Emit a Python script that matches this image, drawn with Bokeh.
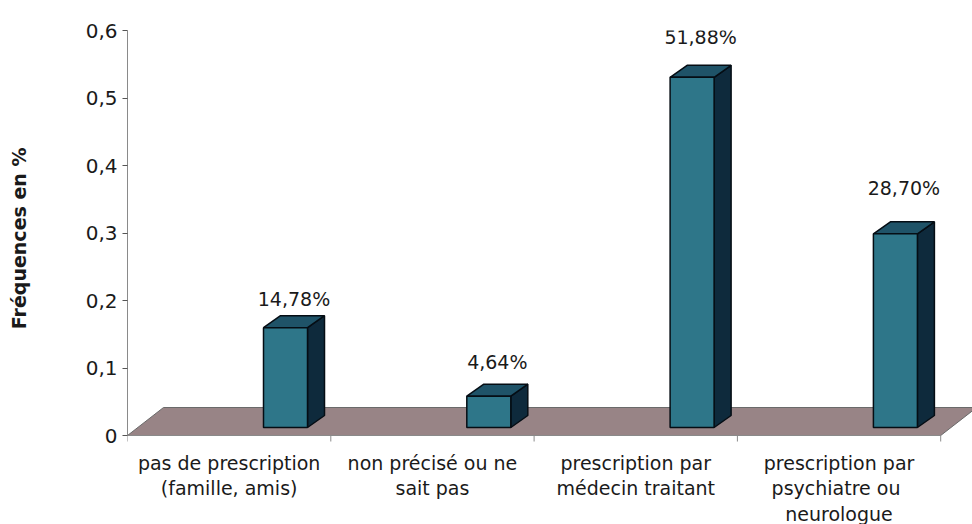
from bokeh.plotting import figure
from bokeh.models import Range1d, FixedTicker, LinearAxis, ColumnDataSource, Title
from bokeh.embed import file_html
from bokeh.resources import INLINE
from bokeh.core.properties import value

# ---- data ----
categories = [
    "pas de prescription\n(famille, amis)",
    "non précisé ou ne\nsait pas",
    "prescription par\nmédecin traitant",
    "prescription par\npsychiatre  ou\nneurologue",
]
values = [0.1478, 0.0464, 0.5188, 0.2870]
value_labels = ["14,78%", "4,64%", "51,88%", "28,70%"]
y_ticks = [0, 0.1, 0.2, 0.3, 0.4, 0.5, 0.6]
y_tick_labels = ["0", "0,1", "0,2", "0,3", "0,4", "0,5", "0,6"]
y_title = "Fréquences en %"

# ---- layout ----
W, H = 972, 524
BL, BR, BT, BB = 127, 0, 30, 0
FW = W - BL - BR
FH = H - BT - BB
n = len(categories)
PX_X = 203.3                  # pixels per category
PX_Y = 675.0                  # pixels per unit of value
y_max = 0.6
x_end = FW / PX_X
y_start = y_max - FH / PX_Y


def dxu(px):
    return px / PX_X


def dyu(px):
    return px / PX_Y


FONT = "DejaVu Sans"
TXT = "#1a1a1a"
AXC = "#8a8a8a"

p = figure(width=W, height=H, x_range=Range1d(0, x_end), y_range=Range1d(y_start, y_max),
           output_backend="svg", toolbar_location=None,
           min_border_left=BL, min_border_right=BR, min_border_top=BT, min_border_bottom=BB,
           x_axis_location=None, y_axis_location=None)
p.outline_line_color = None
p.xgrid.visible = False
p.ygrid.visible = False
p.background_fill_color = "white"
p.border_fill_color = "white"

# ---- floor ----
fdx, fdy = dxu(36), dyu(28)
p.patch([0, n, n + fdx, fdx], [0, 0, fdy, fdy],
        fill_color="#988486", line_color="#6a6a6a", line_width=1)

# ---- category axis (baseline, ticks, labels) ----
p.segment(x0=[0], y0=[0], x1=[n], y1=[0], line_color=AXC, line_width=1)
p.segment(x0=list(range(n + 1)), y0=[0] * (n + 1), x1=list(range(n + 1)),
          y1=[-dyu(6)] * (n + 1), line_color=AXC, line_width=1)
cat_src = ColumnDataSource(dict(x=[i + 0.5 for i in range(n)],
                                y=[-dyu(16)] * n, text=categories))
p.text(x="x", y="y", text="text", source=cat_src, text_align="center",
       text_baseline="top", text_font=value(FONT), text_font_size="19px",
       text_color=TXT, text_line_height=1.17)

# ---- 3D bars ----
bw = dxu(44)
ddx, ddy = dxu(17), dyu(12)
base = dyu(8)
x0 = [i + 0.669 for i in range(n)]
tops = [base + v for v in values]

front_xs, front_ys, top_xs, top_ys, side_xs, side_ys = [], [], [], [], [], []
for xl, t in zip(x0, tops):
    xr = xl + bw
    front_xs.append([xl, xr, xr, xl])
    front_ys.append([base, base, t, t])
    top_xs.append([xl, xr, xr + ddx, xl + ddx])
    top_ys.append([t, t, t + ddy, t + ddy])
    side_xs.append([xr, xr + ddx, xr + ddx, xr])
    side_ys.append([base, base + ddy, t + ddy, t])

p.patches(side_xs, side_ys, fill_color="#0e2a3c", line_color="#050d14", line_width=1.5)
p.patches(top_xs, top_ys, fill_color="#1f5368", line_color="#050d14", line_width=1.5)
p.patches(front_xs, front_ys, fill_color="#2e7689", line_color="#050d14", line_width=1.5)

# ---- value labels ----
lab_src = ColumnDataSource(dict(
    x=[xl + (bw + ddx) / 2 for xl in x0],
    y=[t + ddy + dyu(17 + 5.6 * i) for i, t in enumerate(tops)],
    text=value_labels,
))
p.text(x="x", y="y", text="text", source=lab_src, text_align="center",
       text_baseline="middle", text_font=value(FONT), text_font_size="19px",
       text_color=TXT)

# ---- value axis ----
yaxis = LinearAxis(
    ticker=FixedTicker(ticks=y_ticks, minor_ticks=[]),
    major_label_overrides={t: l for t, l in zip(y_ticks, y_tick_labels)},
    bounds=(0, y_max),
    axis_line_color=AXC, axis_line_width=1,
    major_tick_out=5, major_tick_in=0, major_tick_line_color="#555555",
    minor_tick_out=0, minor_tick_in=0,
    major_label_standoff=5,
    major_label_text_font=FONT, major_label_text_font_size="20px",
    major_label_text_color=TXT,
)
p.add_layout(yaxis, "left")

# blank spacer between the tick labels and the axis title
p.add_layout(Title(text=" ", standoff=27, text_font=FONT, text_font_size="19px",
                   text_color="white"), "left")

# value-axis title, placed alongside the value span, near the outer edge
p.add_layout(Title(text=y_title, align="right", offset=117, standoff=0,
                   vertical_align="top",
                   text_font=FONT, text_font_style="bold", text_font_size="19px",
                   text_color=TXT), "left")

open("out.html", "w").write(file_html(p, INLINE))
